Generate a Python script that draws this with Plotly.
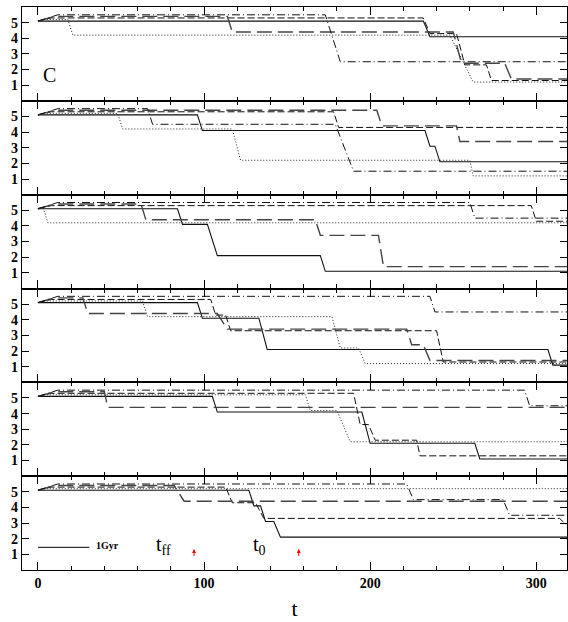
import plotly.graph_objects as go
from plotly.subplots import make_subplots

# ---- data: polyline vertices (t, level) for each run, one list per line style ----
# panel 1
P1_SOLID = [(0, 5.1), (232, 5.1), (236, 4.1), (320, 4.1)]
P1_DOT = [(0, 5.1), (4, 5.2), (18, 5.2), (21, 4.2), (248, 4.2), (262, 1.2), (320, 1.2)]
P1_DASH = [(0, 5.1), (8, 5.3), (232, 5.3), (236, 4.3), (252, 4.3), (257, 2.3), (270, 2.3), (273, 1.3), (320, 1.3)]
P1_LDASH = [(0, 5.1), (10, 5.4), (114, 5.4), (117, 4.4), (250, 4.4), (255, 2.4), (281, 2.4), (285, 1.4), (320, 1.4)]
P1_DDOT = [(0, 5.1), (12, 5.5), (173, 5.5), (182, 2.5), (320, 2.5)]

# panel 2
P2_SOLID = [(0, 5.1), (96, 5.1), (99, 4.1), (233, 4.1), (236, 3.1), (239, 3.1), (242, 2.1), (320, 2.1)]
P2_DOT = [(0, 5.1), (4, 5.2), (48, 5.2), (51, 4.2), (117, 4.2), (122, 2.2), (260, 2.2), (262, 1.2), (320, 1.2)]
P2_DASH = [(0, 5.1), (8, 5.3), (178, 5.3), (181, 4.3), (320, 4.3)]
P2_LDASH = [(0, 5.1), (10, 5.4), (204, 5.4), (207, 4.4), (252, 4.4), (254, 3.4), (320, 3.4)]
P2_DDOT = [(0, 5.1), (12, 5.5), (66, 5.5), (69, 4.5), (179, 4.5), (190, 1.5), (320, 1.5)]

# panel 3
P3_SOLID = [(0, 5.1), (84, 5.1), (87, 4.1), (102, 4.1), (108, 2.1), (170, 2.1), (173, 1.1), (320, 1.1)]
P3_DOT = [(0, 5.1), (3, 5.2), (6, 4.2), (320, 4.2)]
P3_DASH = [(0, 5.1), (8, 5.3), (297, 5.3), (300, 4.3), (320, 4.3)]
P3_LDASH = [(0, 5.1), (10, 5.4), (62, 5.4), (65, 4.4), (167, 4.4), (170, 3.4), (205, 3.4), (208, 1.4), (320, 1.4)]
P3_DDOT = [(0, 5.1), (12, 5.5), (260, 5.5), (263, 4.5), (320, 4.5)]

# panel 4
P4_SOLID = [(0, 5.1), (96, 5.1), (99, 4.1), (133, 4.1), (138, 2.1), (307, 2.1), (310, 1.1), (320, 1.1)]
P4_DOT = [(0, 5.1), (4, 5.2), (63, 5.2), (66, 4.2), (177, 4.2), (182, 2.2), (193, 2.2), (197, 1.2), (320, 1.2)]
P4_DASH = [(0, 5.1), (8, 5.3), (104, 5.3), (107, 4.3), (113, 4.3), (116, 3.3), (240, 3.3), (244, 1.3), (320, 1.3)]
P4_LDASH = [(0, 5.1), (10, 5.4), (27, 5.4), (30, 4.4), (108, 4.4), (114, 3.4), (222, 3.4), (225, 2.4), (232, 2.4), (236, 1.4), (320, 1.4)]
P4_DDOT = [(0, 5.1), (12, 5.5), (236, 5.5), (239, 4.5), (320, 4.5)]

# panel 5
P5_SOLID = [(0, 5.1), (105, 5.1), (108, 4.1), (195, 4.1), (200, 2.1), (263, 2.1), (266, 1.1), (320, 1.1)]
P5_DOT = [(0, 5.1), (4, 5.2), (161, 5.2), (164, 4.2), (180, 4.2), (188, 2.2), (320, 2.2)]
P5_DASH = [(0, 5.1), (8, 5.3), (190, 5.3), (194, 3.3), (199, 3.3), (203, 2.3), (228, 2.3), (230, 1.3), (320, 1.3)]
P5_LDASH = [(0, 5.1), (10, 5.4), (40, 5.4), (42, 4.4), (320, 4.4)]
P5_DDOT = [(0, 5.1), (12, 5.5), (293, 5.5), (296, 4.5), (320, 4.5)]

# panel 6
P6_SOLID = [(0, 5.1), (127, 5.1), (130, 4.1), (134, 4.1), (137, 3.1), (142, 3.1), (146, 2.1), (320, 2.1)]
P6_DOT = [(0, 5.1), (4, 5.2), (320, 5.2)]
P6_DASH = [(0, 5.1), (8, 5.3), (113, 5.3), (117, 4.3), (131, 4.3), (136, 3.3), (314, 3.3), (318, 2.9)]
P6_LDASH = [(0, 5.1), (10, 5.4), (82, 5.4), (88, 4.4), (320, 4.4)]
P6_DDOT = [(0, 5.1), (12, 5.5), (222, 5.5), (226, 4.5), (280, 4.5), (284, 3.5), (320, 3.5)]

PANELS = [
    [P1_SOLID, P1_DOT, P1_DASH, P1_LDASH, P1_DDOT],
    [P2_SOLID, P2_DOT, P2_DASH, P2_LDASH, P2_DDOT],
    [P3_SOLID, P3_DOT, P3_DASH, P3_LDASH, P3_DDOT],
    [P4_SOLID, P4_DOT, P4_DASH, P4_LDASH, P4_DDOT],
    [P5_SOLID, P5_DOT, P5_DASH, P5_LDASH, P5_DDOT],
    [P6_SOLID, P6_DOT, P6_DASH, P6_LDASH, P6_DDOT],
]

STYLES = [
    dict(color="#111111", width=1.1, dash="solid"),
    dict(color="#222222", width=1.0, dash="1px,2px"),
    dict(color="#111111", width=1.0, dash="7px,3px"),
    dict(color="#444444", width=1.4, dash="15px,6px"),
    dict(color="#111111", width=1.0, dash="8px,3px,1px,3px"),
]

Y_TICKS = [1, 2, 3, 4, 5]
X_TICKS = [0, 100, 200, 300]

# markers along the time axis in the bottom panel
T_FF = 94
T_0 = 157

FONT = "Liberation Serif"

fig = make_subplots(rows=6, cols=1, shared_xaxes=True, vertical_spacing=0)

for r, series in enumerate(PANELS, start=1):
    for pts, style in zip(series, STYLES):
        fig.add_trace(
            go.Scatter(
                x=[p[0] for p in pts],
                y=[p[1] for p in pts],
                mode="lines",
                line=style,
                showlegend=False,
                hoverinfo="skip",
            ),
            row=r, col=1,
        )

for r in range(1, 7):
    fig.update_yaxes(
        range=[0, 6], tickvals=Y_TICKS, ticks="inside", ticklen=7,
        tickcolor="black", showline=True, linecolor="black", linewidth=1.2,
        mirror="allticks", showgrid=False, zeroline=False,
        tickfont=dict(family=FONT, size=14, color="black", weight="bold"),
        row=r, col=1,
    )
    fig.update_xaxes(
        range=[-9.6, 318.5], tickvals=X_TICKS, ticks="inside", ticklen=8,
        tickcolor="black", showline=True, linecolor="black", linewidth=1.2,
        mirror="allticks", showgrid=False, zeroline=False,
        minor=dict(dtick=20, tick0=0, ticks="inside", ticklen=4, tickcolor="black", showgrid=False),
        showticklabels=(r == 6),
        tickfont=dict(family=FONT, size=14, color="black", weight="bold"),
        row=r, col=1,
    )

fig.update_xaxes(title=dict(text="t", font=dict(family=FONT, size=22, color="black"), standoff=10), row=6, col=1)

# panel label
fig.add_annotation(x=2, y=1.65, xref="x", yref="y", text="C", showarrow=False,
                   xanchor="left", font=dict(family=FONT, size=20, color="black"))

# scale bar
fig.add_shape(type="line", x0=0, x1=31, y0=1.45, y1=1.45, xref="x6", yref="y6",
              line=dict(color="black", width=1))
fig.add_annotation(x=34, y=1.55, xref="x6", yref="y6", text="1Gyr", showarrow=False,
                   xanchor="left", font=dict(family=FONT, size=10, color="black", weight="bold"))

fig.add_annotation(x=70, y=1.55, xref="x6", yref="y6", text="t<sub>ff</sub>", showarrow=False,
                   xanchor="left", font=dict(family=FONT, size=20, color="black"))
fig.add_annotation(x=128, y=1.55, xref="x6", yref="y6", text="t<sub>0</sub>", showarrow=False,
                   xanchor="left", font=dict(family=FONT, size=20, color="black"))

for tx in (T_FF, T_0):
    fig.add_annotation(x=tx, y=1.35, ax=tx, ay=0.8, xref="x6", yref="y6",
                       axref="x6", ayref="y6", text="", showarrow=True,
                       arrowhead=2, arrowsize=0.8, arrowwidth=1, arrowcolor="red")

fig.update_layout(
    width=568, height=622,
    margin=dict(l=22, r=1, t=7, b=52),
    paper_bgcolor="white", plot_bgcolor="white",
    showlegend=False,
)

fig.write_html("out.html")
